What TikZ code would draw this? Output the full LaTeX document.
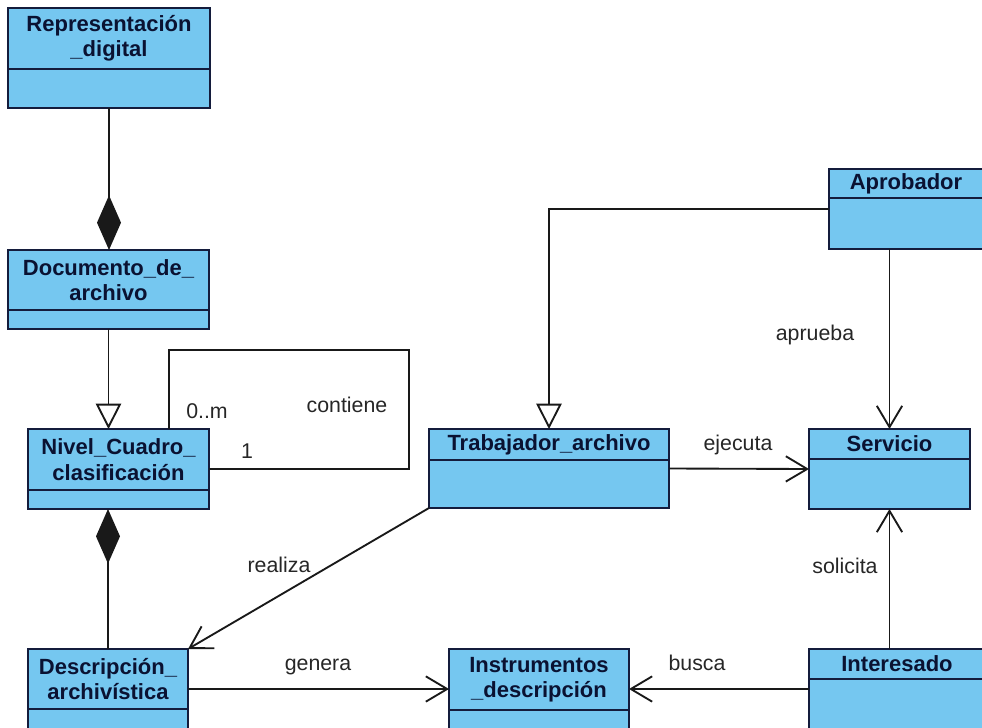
\documentclass[tikz,border=0pt]{standalone}
\usepackage{fontspec}
\setmainfont{Liberation Sans}
\usepackage{tikz}
\usetikzlibrary{calc,arrows.meta}
\definecolor{clsfill}{RGB}{117,199,240}
\definecolor{clsdraw}{RGB}{20,28,60}
\definecolor{clstext}{RGB}{10,18,50}

\tikzset{
  clsbox/.style={draw=clsdraw, fill=clsfill, line width=1.5pt, outer sep=0pt, inner sep=0pt},
  clsname/.style={text=clstext, font=\fontsize{16.5}{19}\selectfont\bfseries, align=center, inner sep=0pt},
  lbl/.style={text=black!85, font=\fontsize{16}{18}\selectfont, inner sep=0pt},
  link/.style={line width=1.4pt, draw=black!90},
  nav/.style={link, -{Straight Barb[length=16pt, width=19pt, line width=1.4pt]}},
  gen/.style={link, -{Triangle[open, length=19pt, width=19pt, fill=white, line width=1.4pt]}},
  comp/.style={link, -{Diamond[length=41pt, width=18pt]}}
}

% class box: name, x, y, width, header height, total height, title (pixels)
\newcommand{\umlclass}[7]{%
  \node[clsbox, anchor=north west, minimum width={#4*0.75pt}, minimum height={#6*0.75pt}] (#1) at (#2,#3) {};
  \draw[clsdraw, line width=1.5pt] ($(#1.north west)+(0,#5)$) -- ($(#1.north east)+(0,#5)$);
  \node[clsname] (#1-name) at ($(#1.north)+(0,#5/2)$) {#7};
}

\begin{document}
\begin{tikzpicture}[x=0.75pt, y=-0.75pt]
\useasboundingbox (0,0) rectangle (982,728);

\umlclass{rep}{8}{8}{202}{61}{100}{Representación\\\_digital}
\umlclass{doc}{8}{250}{201}{60}{79}{Documento\_de\_\\archivo}
\umlclass{niv}{28}{429}{181}{61}{80}{Nivel\_Cuadro\_\\clasificación}
\umlclass{des}{28}{649}{160}{60}{80}{Descripción\_\\archivística}
\umlclass{ins}{449}{649}{180}{61}{80}{Instrumentos\\\_descripción}
\umlclass{int}{809}{649}{176}{30}{80}{Interesado}
\umlclass{apr}{829}{169}{154}{29}{80}{Aprobador}
\umlclass{tra}{429}{429}{240}{31}{79}{Trabajador\_archivo}
\umlclass{ser}{809}{429}{161}{30}{80}{Servicio}

% composition / generalization
\draw[comp] (rep.south) -- (rep.south |- doc.north);
\draw[gen] (doc.south) -- (doc.south |- niv.north);
\draw[comp] (des.north) -- (des.north |- niv.south);
\draw[gen] (apr.west) -- (tra.north |- apr.west) -- (tra.north);

% self association
\coordinate (loopA) at (169,350);
\coordinate (loopB) at (409,350);
\draw[link] (niv.north -| loopA) -- (loopA) -- (loopB) -- (loopB |- niv.east) -- (niv.east);
\node[lbl] (multm) at (207,411) {0..m};
\node[lbl] (mult1) at (247,451) {1};
\node[lbl] (contiene) at (347,405) {contiene};

% associations
\draw[nav] (ser.north |- apr.south) -- (ser.north);
\node[lbl] (aprueba) at (815,335) {aprueba};
\draw[nav] (tra.east) -- (ser.west);
\node[lbl] (ejecuta) at (738,445) {ejecuta};
\draw[nav] (ser.south |- int.north) -- (ser.south);
\node[lbl] (solicita) at (845,566) {solicita};
\draw[nav] (tra.south west) -- (des.north east);
\node[lbl] (realiza) at (279,565) {realiza};
\draw[nav] (des.east) -- (ins.west);
\node[lbl] (genera) at (318,667) {genera};
\draw[nav] (int.west) -- (ins.east);
\node[lbl] (busca) at (697,663) {busca};
\end{tikzpicture}
\end{document}
